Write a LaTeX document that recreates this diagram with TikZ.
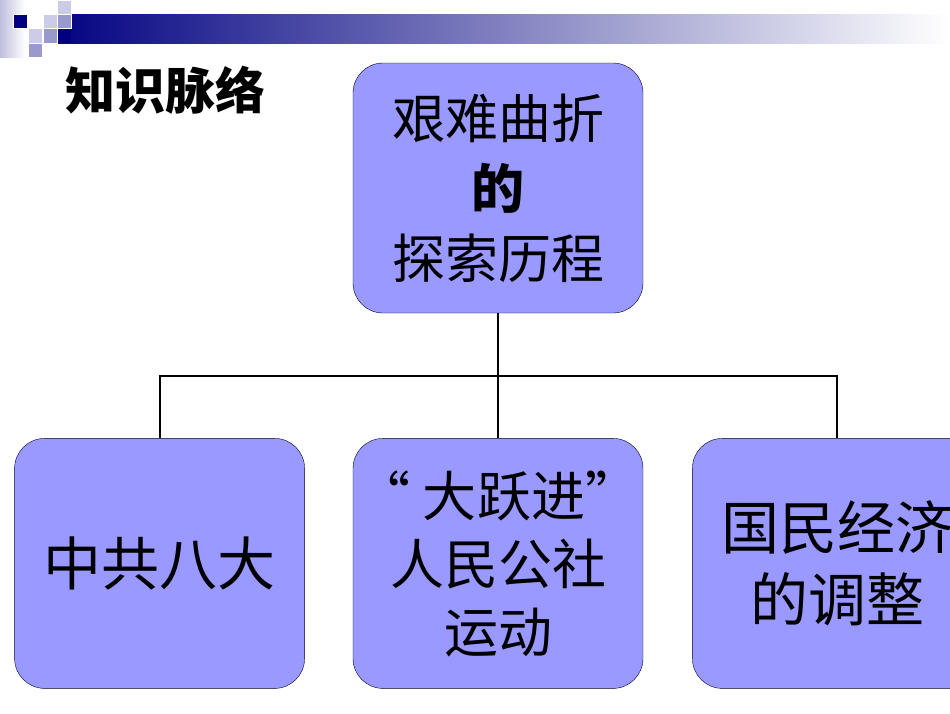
\documentclass[tikz,border=0pt]{standalone}
\usepackage{fontspec}
\newfontfamily\cjk{Noto Sans CJK SC}
\usetikzlibrary{positioning,calc}
\definecolor{boxfill}{HTML}{9999FF}
\definecolor{navy}{HTML}{000080}
\definecolor{sqlight}{HTML}{CCCCE6}
\definecolor{sqmid}{HTML}{9999CC}
\tikzset{
  topicblk/.style={draw=black!85!blue,fill=boxfill,rounded corners=30pt,minimum width=290pt,minimum height=250pt,inner sep=0pt,align=center},
  bigtxt/.style={font=\cjk\fontsize{58}{72}\selectfont},
  midtxt/.style={font=\cjk\fontsize{54}{68}\selectfont},
  conn/.style={line width=2pt},
  sqr/.style={draw=white,line width=0.8pt},
  ttl/.style={font=\cjk\bfseries\fontsize{50}{50}\selectfont}
}

\begin{document}
\begin{tikzpicture}[x=1pt,y=1pt,node distance=125pt and 48pt]
  \useasboundingbox (0,0) rectangle (950,-713);
  \clip (0,0) rectangle (950,-713);

  % header band
  \shade[left color=navy!25,right color=white] (0,0) rectangle (25,-57);
  \shade[left color=navy,right color=white] (43,-14) rectangle (950,-43);
  \fill[navy] (43,-14) rectangle (71,-43);
  \filldraw[sqr,fill=navy] (13,-14) rectangle ++(14.5,-14.5);
  \filldraw[sqr,fill=sqlight] (57,0) rectangle ++(14.5,-14);
  \filldraw[sqr,fill=sqlight] (43,-14) rectangle ++(14.5,-14.5);
  \filldraw[sqr,fill=sqmid] (57,-14) rectangle ++(14.5,-14.5);
  \filldraw[sqr,fill=sqlight] (28,-28.5) rectangle ++(14.5,-14.5);
  \filldraw[sqr,fill=sqmid] (43,-28.5) rectangle ++(14.5,-14.5);
  \filldraw[sqr,fill=sqmid] (28,-43) rectangle ++(14.5,-14.5);

  \node[ttl] (title) at (165,-90) {知识脉络};

  % tree
  \node[topicblk,font=\cjk\fontsize{53}{70}\selectfont] (top) at (498,-188)
    {艰难曲折\\{\bfseries 的}\\探索历程};
  \node[topicblk,midtxt,below=of top] (mid) {“ 大跃进”\\人民公社\\运动};
  \node[topicblk,bigtxt,left=of mid] (left) {中共八大};
  \node[topicblk,bigtxt,right=49pt of mid] (right) {国民经济\\的调整};

  \coordinate (bus) at ($(top.south)!0.5!(mid.north)$);
  \draw[conn] (top.south) -- (mid.north);
  \draw[conn] (left.north) |- (bus) -| (right.north);
\end{tikzpicture}
\end{document}
